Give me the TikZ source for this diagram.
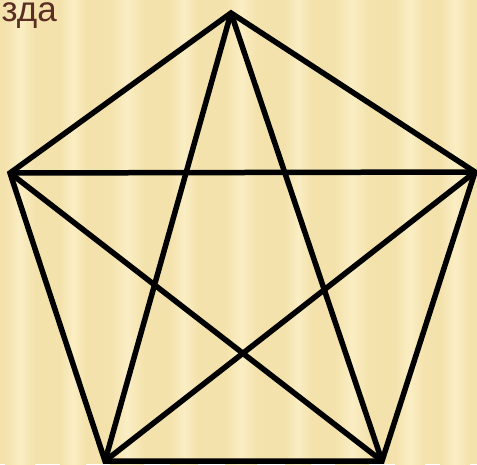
\documentclass[tikz,border=0pt]{standalone}
\usepackage{fontspec}
\setmainfont{Liberation Sans}
\definecolor{bgbase}{RGB}{244,226,172}
\definecolor{bglight}{RGB}{250,238,196}
\definecolor{txtbrown}{RGB}{90,46,34}
\begin{document}
\begin{tikzpicture}[x=1pt,y=-1pt,
  edge/.style={line width=5.5pt,black,line join=miter}]
\useasboundingbox (0,0) rectangle (477,464);
\clip (0,0) rectangle (477,464);
\fill[bgbase] (0,0) rectangle (477,464);
\foreach \xa/\w in {5/30,60/26,110/34,170/28,225/32,285/26,335/34,395/30,440/30}{
  \shade[left color=bgbase,right color=bgbase,middle color=bglight] (\xa,0) rectangle ++(\w,464);
}
\node[anchor=base west,inner sep=0pt,text=txtbrown,font=\fontsize{35}{40}\selectfont] (title) at (1.5,21) {зда};
\coordinate (T) at (231,13);
\coordinate (L) at (10,173);
\coordinate (R) at (475,172);
\coordinate (BL) at (105,461);
\coordinate (BR) at (382,461);
\draw[edge] (T) -- (R) -- (BR) -- (BL) -- (L) -- cycle;
\draw[edge] (T) -- (BL);
\draw[edge] (T) -- (BR);
\draw[edge] (L) -- (R);
\draw[edge] (L) -- (BR);
\draw[edge] (R) -- (BL);
\end{tikzpicture}
\end{document}
